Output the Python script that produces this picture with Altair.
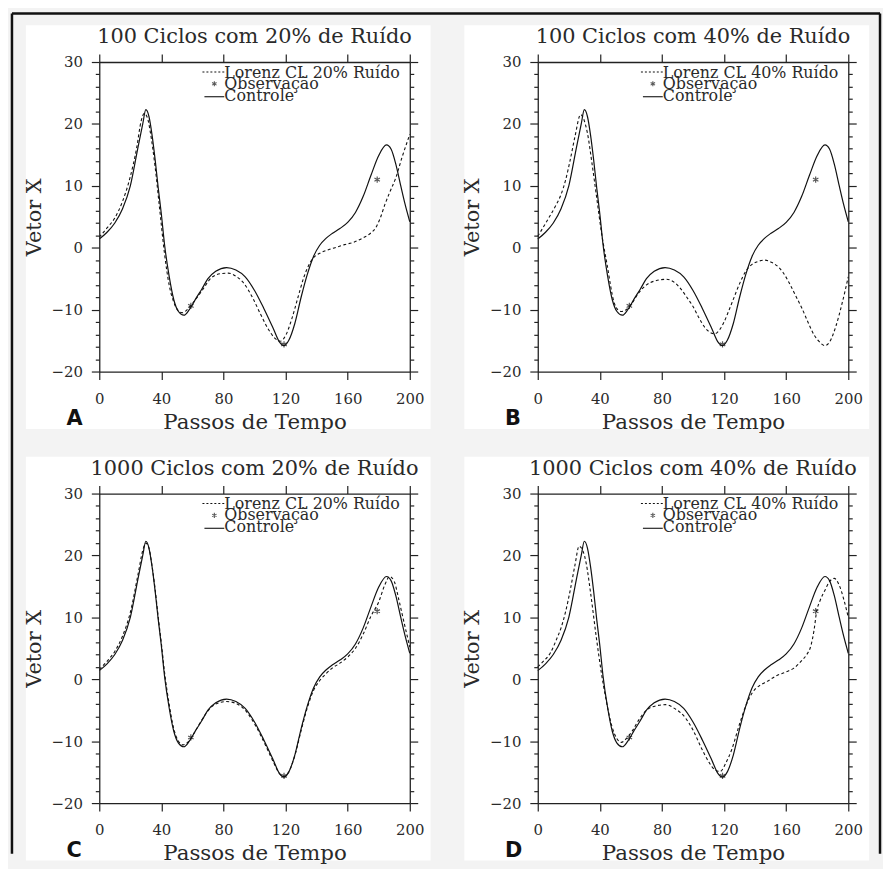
import altair as alt
import pandas as pd

# ---------------- data ----------------
ctrl_x = [0, 5, 10, 15, 20, 25, 28, 30, 32, 34, 36, 38, 40, 42, 45, 48, 51, 54.5, 58, 62,
          66, 70, 75, 82, 88, 94, 100, 106, 112, 116, 119, 122, 126, 130, 134, 138, 142, 146,
          150, 155, 160, 165, 170, 175, 180, 185, 188, 191, 194, 197, 200]
ctrl_y = [1.4, 2.5, 4.0, 6.3, 10.0, 16.3, 20.0, 22.3, 21.2, 18.2, 14.2, 9.6, 5.4, 0.6, -4.6,
          -8.4, -10.3, -10.9, -10.0, -8.3, -6.7, -5.0, -3.8, -3.2, -3.6, -4.7, -6.9, -9.8,
          -13.0, -15.2, -15.8, -15.0, -12.2, -8.0, -4.3, -1.4, 0.4, 1.5, 2.3, 3.1, 4.1, 5.7,
          8.3, 11.7, 14.9, 16.6, 15.9, 13.5, 10.2, 7.0, 4.2]

obs_x = [59, 119, 179]
obs_y = [-9.4, -15.6, 11.0]

dA_x = [0, 5, 10, 15, 20, 24, 27, 29, 31, 33, 36, 39, 42, 45, 48, 51, 53.5, 57, 61, 66, 72,
        78, 83, 88, 93, 99, 104, 109, 113, 116.6, 120, 124, 128, 132, 135, 138, 142, 148,
        153, 158, 164, 170, 175, 178, 181, 184, 187, 191, 195, 200]
dA_y = [1.7, 3.2, 4.8, 7.5, 11.5, 16.0, 20.5, 21.7, 21.0, 18.5, 13.0, 6.0, -0.9, -6.0, -8.8,
        -10.2, -10.5, -9.9, -8.7, -7.0, -4.9, -4.2, -4.1, -4.6, -5.7, -8.2, -10.8, -13.2,
        -14.6, -15.1, -14.2, -11.5, -8.0, -4.6, -2.8, -1.6, -0.9, -0.3, 0.1, 0.5, 0.9, 1.6,
        2.4, 3.2, 4.8, 7.0, 8.9, 11.3, 14.6, 18.3]

dB_x = [0, 4, 8, 12, 15, 18, 21, 24, 27.6, 30, 32, 35, 38, 41, 44.7, 49, 51.5, 54, 57, 60,
        65, 70, 75, 83, 88, 92, 96, 100, 104, 108, 112, 114, 117, 120, 123, 126, 130, 134,
        138, 142, 146, 150, 154, 158, 162, 166, 170, 174, 178, 181, 185, 188, 192, 196, 200]
dB_y = [1.85, 3.5, 5.2, 7.0, 8.6, 11.0, 14.3, 18.0, 21.5, 20.5, 18.5, 13.5, 8.0, 2.5, -2.8,
        -8.7, -10.0, -10.3, -10.0, -9.2, -7.3, -6.0, -5.4, -5.1, -5.6, -6.6, -8.0, -9.5,
        -11.4, -13.0, -13.8, -13.9, -13.3, -12.0, -10.2, -8.3, -5.8, -3.8, -2.7, -2.2, -2.0,
        -2.3, -2.9, -4.0, -5.7, -7.7, -9.7, -12.0, -14.1, -15.1, -15.8, -15.2, -12.7, -9.0,
        -4.7]

dC_x = [0, 5, 10, 15, 20, 25, 28, 30, 32, 34, 36, 38, 40, 42, 45, 48, 51, 54, 58, 62, 66,
        70, 75, 82, 88, 94, 100, 106, 112, 116, 119, 122, 126, 130, 134, 138, 142, 146, 150,
        155, 160, 165, 170, 175, 180, 184, 187, 190, 193, 196, 200]
dC_y = [1.6, 2.9, 4.5, 7.0, 10.8, 17.0, 20.8, 22.0, 21.2, 18.3, 14.5, 10.0, 5.8, 1.2, -4.0,
        -8.0, -10.0, -10.6, -9.9, -8.3, -6.6, -5.1, -4.0, -3.6, -3.9, -5.0, -7.2, -10.1,
        -13.3, -15.2, -15.7, -15.0, -12.3, -8.3, -4.6, -1.8, -0.2, 0.9, 1.8, 2.6, 3.6, 5.0,
        7.3, 10.2, 12.5, 15.3, 16.6, 15.8, 12.8, 9.5, 5.2]

dD_x = [0, 4, 8, 12, 15, 18, 21, 24, 26.6, 29, 31.3, 34, 37.7, 41, 44, 48, 51, 53.7, 57, 61,
        65, 70, 76, 82.5, 88, 95, 100, 105, 110, 114, 117.4, 121, 125, 130, 134, 136.5, 140,
        143, 148, 154, 160, 165, 170, 173, 176, 178, 179.5, 182, 185, 188, 191, 194, 197, 200]
dD_y = [2.0, 3.0, 4.2, 6.4, 8.3, 11.0, 14.5, 18.5, 21.5, 20.8, 18.6, 14.0, 6.8, 1.0, -3.3,
        -7.8, -9.6, -10.2, -9.6, -8.3, -6.6, -5.0, -4.3, -4.1, -4.7, -6.2, -8.2, -10.9,
        -13.3, -14.6, -14.9, -13.6, -11.3, -7.2, -4.3, -2.9, -1.6, -1.0, -0.3, 0.6, 1.2, 1.8,
        3.0, 3.9, 5.5, 8.0, 10.8, 12.8, 14.4, 15.8, 16.3, 15.3, 13.0, 10.0]

titles = ["100 Ciclos com 20% de Ruído", "100 Ciclos com 40% de Ruído",
          "1000 Ciclos com 20% de Ruído", "1000 Ciclos com 40% de Ruído"]
legend_dash = ["Lorenz CL 20% Ruído", "Lorenz CL 40% Ruído",
               "Lorenz CL 20% Ruído", "Lorenz CL 40% Ruído"]
legend_obs = "Observação"
legend_ctrl = "Controle"
letters = ["A", "B", "C", "D"]
x_ticks = [0, 40, 80, 120, 160, 200]
y_ticks = list(range(-20, 31, 2))

# ---------------- style ----------------
SERIF = "DejaVu Serif"
TXT = "#2a2a2a"
LC = "#222222"
W, H = 313, 312
ASTER = "M0,-1L0,1M-0.87,-0.5L0.87,0.5M-0.87,0.5L0.87,-0.5"

xs = alt.Scale(domain=[0, 200], nice=False, zero=False)
ys = alt.Scale(domain=[-20, 30], nice=False, zero=False)

major_test = "datum.value % 10 === 0"

common_axis = dict(grid=False, domainColor=LC, domainWidth=1.3, tickColor=LC,
                   tickWidth=1.2, labelOverlap=False, zindex=1)

bottom_axis = alt.Axis(orient="bottom", values=x_ticks, title="Passos de Tempo",
                       titleFont=SERIF, titleFontSize=21.5, titleFontWeight="normal",
                       titleColor=TXT, titlePadding=5, labelFont=SERIF, labelFontSize=15,
                       labelColor=TXT, labelPadding=12, labelFlush=False, tickSize=8,
                       format="d", **common_axis)
top_axis = alt.Axis(orient="top", values=x_ticks, title=None, labels=False, tickSize=8,
                    **common_axis)
left_axis = alt.Axis(orient="left", values=y_ticks, title="Vetor X", titleFont=SERIF,
                     titleFontSize=21, titleFontWeight="normal", titleColor=TXT,
                     titlePadding=7, labelFont=SERIF, labelFontSize=15, labelColor=TXT,
                     labelPadding=9, labelFlush=False,
                     labelExpr=major_test + " ? datum.label : ''",
                     tickSize={"condition": {"test": major_test, "value": 8}, "value": 4},
                     **common_axis)
right_axis = alt.Axis(orient="right", values=y_ticks, title=None, labels=False,
                      tickSize={"condition": {"test": major_test, "value": 8}, "value": 4},
                      **common_axis)

one = pd.DataFrame({"k": [0]})
ctrl_df = pd.DataFrame({"x": ctrl_x, "y": ctrl_y})
obs_df = pd.DataFrame({"x": obs_x, "y": obs_y})


def text_layer(label, xv, yv, size=16, align="left", font=SERIF, weight="normal",
               color=TXT):
    return alt.Chart(pd.DataFrame({"t": [label]})).mark_text(
        font=font, fontSize=size, fontWeight=weight, color=color, align=align,
        baseline="alphabetic").encode(text="t:N", x=alt.value(xv), y=alt.value(yv))


def panel(i, dx, dy, with_frame=False):
    dash_df = pd.DataFrame({"x": dx, "y": dy})
    bg = alt.Chart(one).mark_rect(fill="white").encode(
        x=alt.value(-74), x2=alt.value(334), y=alt.value(-37), y2=alt.value(370))
    ctrl = alt.Chart(ctrl_df).mark_line(color="#111111", strokeWidth=1.2,
                                        interpolate="monotone").encode(
        x=alt.X("x:Q", scale=xs, axis=bottom_axis),
        y=alt.Y("y:Q", scale=ys, axis=left_axis))
    dash = alt.Chart(dash_df).mark_line(color="#111111", strokeWidth=1.1,
                                        strokeDash=[3, 2.5],
                                        interpolate="monotone").encode(
        x=alt.X("x:Q", scale=xs, axis=top_axis),
        y=alt.Y("y:Q", scale=ys, axis=right_axis))
    obs = alt.Chart(obs_df).mark_point(shape=ASTER, size=40, filled=False,
                                       color="#111111", strokeWidth=1.2).encode(
        x=alt.X("x:Q", scale=xs, axis=None),
        y=alt.Y("y:Q", scale=ys, axis=None))

    leg_dash = alt.Chart(one).mark_rule(color="#111111", strokeWidth=1.1,
                                        strokeDash=[2, 2]).encode(
        x=alt.value(104), x2=alt.value(126), y=alt.value(10))
    leg_ctrl = alt.Chart(one).mark_rule(color="#111111", strokeWidth=1.1).encode(
        x=alt.value(106), x2=alt.value(126), y=alt.value(35))
    leg_obs = alt.Chart(one).mark_point(shape=ASTER, size=26, filled=False,
                                        color="#111111", strokeWidth=1.1).encode(
        x=alt.value(116), y=alt.value(22))

    layers = [bg, ctrl, dash, obs, leg_dash, leg_ctrl, leg_obs,
              text_layer(legend_dash[i], 126, 16),
              text_layer(legend_obs, 126, 27),
              text_layer(legend_ctrl, 126, 39),
              text_layer(titles[i], W / 2, -19, size=21, align="center"),
              text_layer(letters[i], -33, 366, size=21, font="DejaVu Sans",
                         weight="bold", color="#111111")]
    if with_frame:
        fl = alt.Chart(one).mark_rule(color="#111111", strokeWidth=2.5).encode(
            x=alt.value(-88), y=alt.value(-49), y2=alt.value(798))
        ft = alt.Chart(one).mark_rule(color="#111111", strokeWidth=2.5).encode(
            x=alt.value(-88), x2=alt.value(787), y=alt.value(-49))
        fr = alt.Chart(one).mark_rule(color="#111111", strokeWidth=2.5).encode(
            x=alt.value(787), y=alt.value(-49), y2=alt.value(798))
        layers += [fl, ft, fr]

    return alt.layer(*layers).resolve_axis(x="independent", y="independent").properties(
        width=W, height=H)


pA = panel(0, dA_x, dA_y, with_frame=True)
pB = panel(1, dB_x, dB_y)
pC = panel(2, dC_x, dC_y)
pD = panel(3, dD_x, dD_y)

chart = alt.concat(pA, pB, pC, pD, columns=2, spacing={"row": 123, "column": 129},
                   bounds="flush").properties(
    background="#f3f3f3",
    padding={"left": 2, "top": 0, "right": 1, "bottom": 1},
).configure_view(stroke=None)

chart.save("out.html", embed_options={"renderer": "svg", "actions": False})
